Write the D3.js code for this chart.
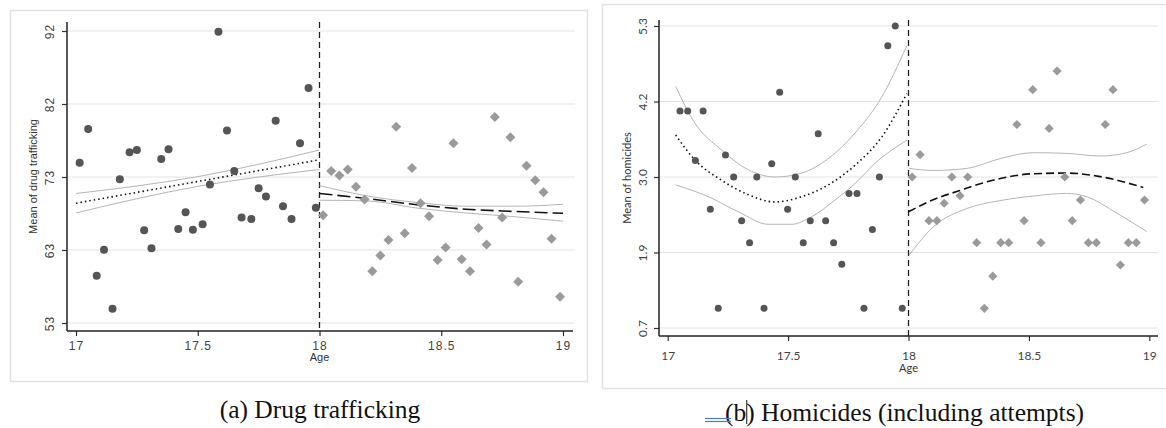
<!DOCTYPE html>
<html>
<head>
<meta charset="utf-8">
<script src="https://cdn.jsdelivr.net/npm/d3@7"></script>
<style>
  body { margin: 0; background: #fff; }
  svg { display: block; }
</style>
</head>
<body>
<svg id="chart"></svg>
<script>
// ---- panel (a) drug trafficking ----
let drugAgeL = [17.015,17.05,17.085,17.115,17.15,17.18,17.22,17.25,17.28,17.31,17.35,17.38,17.42,17.45,17.48,
                17.52,17.55,17.585,17.62,17.65,17.68,17.72,17.75,17.78,17.82,17.85,17.885,17.92,17.955,17.985];
let drugValL = [74.4,78.9,59.3,62.8,54.9,72.2,75.8,76.1,65.4,63.0,74.9,76.2,65.55,67.8,65.45,
                66.2,71.5,91.9,78.7,73.3,67.1,66.9,71.0,69.9,80.0,68.6,66.9,77.0,84.4,68.4];
let drugAgeR = [18.015,18.048,18.082,18.116,18.15,18.185,18.217,18.25,18.283,18.315,18.35,18.38,18.415,18.45,18.485,
                18.518,18.55,18.584,18.618,18.653,18.686,18.72,18.75,18.784,18.816,18.85,18.886,18.92,18.953,18.988];
let drugValR = [67.4,73.3,72.7,73.5,71.2,69.5,59.9,62.0,64.1,79.2,65.0,73.7,69.0,67.25,61.4,
                63.1,77.0,61.5,59.9,65.7,63.5,80.5,67.1,77.8,58.5,74.0,72.05,70.45,64.25,56.5];
let drugFitAgeL = [17,17.25,17.5,17.75,18];
let drugFitL    = [69.0,70.45,71.9,73.35,74.8];
let drugHiL     = [70.3,71.3,72.55,74.2,76.1];
let drugLoL     = [67.7,69.6,71.25,72.5,73.5];
let drugFitAgeR = [18,18.2,18.4,18.6,18.8,19];
let drugFitR    = [70.3,69.6,68.8,68.2,67.9,67.65];
let drugHiR     = [71.35,69.95,69.1,68.6,68.6,68.85];
let drugLoR     = [69.4,69.3,68.35,67.7,67.2,66.6];
let drugTicks   = [53,62.75,72.5,82.25,92];
let drugTickLab = ["53","63","73","82","92"];

// ---- panel (b) homicides ----
let homAgeL = [17.051,17.083,17.115,17.147,17.177,17.21,17.24,17.274,17.307,17.34,17.37,17.4,17.432,17.465,17.498,
               17.53,17.563,17.592,17.625,17.656,17.689,17.723,17.753,17.786,17.815,17.85,17.879,17.914,17.945,17.974];
let homValL = [4.005,4.005,3.25,4.005,2.51,1.0,3.335,3.0,2.335,2.0,3.0,1.0,3.2,4.29,2.51,
               3.0,2.0,2.335,3.66,2.335,2.0,1.67,2.75,2.75,1.0,2.2,3.0,5.0,5.3,1.0];
let homAgeR = [18.015,18.048,18.085,18.118,18.148,18.18,18.214,18.246,18.283,18.315,18.35,18.383,18.416,18.45,18.48,
               18.516,18.55,18.584,18.617,18.649,18.68,18.714,18.747,18.78,18.817,18.849,18.88,18.913,18.946,18.98];
let homValR = [3.0,3.34,2.335,2.335,2.6,3.0,2.715,3.0,2.0,1.0,1.49,2.0,2.0,3.8,2.335,
               4.33,2.0,3.74,4.615,3.0,2.335,2.65,2.0,2.0,3.8,4.33,1.66,2.0,2.0,2.65];
let homFitAgeL = [17.033,17.113,17.224,17.335,17.446,17.556,17.667,17.778,17.889,17.993];
let homFitL    = [3.64,3.26,2.95,2.73,2.62,2.70,2.88,3.18,3.61,4.27];
let homHiL     = [4.38,3.82,3.41,3.11,3.0,3.06,3.28,3.67,4.22,5.0];
let homLoAgeL  = [17.033,17.169,17.293,17.418,17.515,17.598,17.695,17.778,17.861,17.993];
let homLoL     = [2.88,2.70,2.47,2.28,2.28,2.395,2.65,2.90,3.21,3.56];
let homFitAgeR = [18.0,18.1,18.21,18.35,18.52,18.66,18.79,18.975];
let homFitR    = [2.47,2.65,2.79,2.95,3.05,3.06,3.01,2.84];
let homCiAgeR  = [18.003,18.103,18.242,18.38,18.518,18.657,18.795,18.906,18.989];
let homHiR     = [3.13,3.10,3.13,3.28,3.37,3.36,3.32,3.37,3.50];
let homLoAgeR  = [18.003,18.103,18.242,18.38,18.518,18.657,18.74,18.865,18.989];
let homLoR     = [1.81,2.24,2.52,2.64,2.71,2.75,2.70,2.45,2.17];
let homTicks   = [0.7,1.85,3.0,4.15,5.3];
let homTickLab = ["0.7","1.9","3.0","4.2","5.3"];

let xTicks = [17,17.5,18,18.5,19];

let W = 1166, H = 428;
let svg = d3.select("#chart").attr("width",W).attr("height",H);

let zip = (a,b) => a.map((v,i) => [v,b[i]]);

function drawPanel(p) {
  let x = d3.scaleLinear().domain([17,19]).range([p.x17,p.x19]),
      y = d3.scaleLinear().domain([p.ticks[0],p.ticks[4]]).range([p.yBot,p.yTop]);

  let g = svg.append("g");

  // frame
  g.append("rect")
    .attr("x",p.frame[0]+0.5).attr("y",p.frame[1]+0.5)
    .attr("width",p.frame[2]).attr("height",p.frame[3])
    .attr("fill","none").attr("stroke","#e2e2e2").attr("stroke-width",1.5);

  // grid
  g.selectAll(".grid").data(p.ticks).enter().append("line")
    .attr("x1",p.axisX).attr("x2",p.gridEnd)
    .attr("y1",d=>y(d)).attr("y2",d=>y(d))
    .attr("stroke","#e3e3e3").attr("stroke-width",1);

  // axes
  let yAxis = d3.axisLeft(y).tickValues(p.ticks).tickSize(5)
                .tickFormat((d,i) => p.tickLab[i]);
  let xAxis = d3.axisBottom(x).tickValues(xTicks).tickSize(5)
                .tickFormat(d => d3.format("")(d));

  let ya = g.append("g").attr("transform",`translate(${p.axisX},0)`).call(yAxis);
  ya.select(".domain").remove();
  ya.selectAll("line").attr("stroke","#333").attr("stroke-width",1.2);
  ya.selectAll("text")
    .attr("transform","rotate(-90)")
    .attr("x",0).attr("dy",0)
    .attr("y",-p.yLabOff)
    .style("text-anchor","middle")
    .style("font-family",p.font).style("font-size","12px")
    .style("letter-spacing",p.spacing).attr("fill","#444");

  let xa = g.append("g").attr("transform",`translate(0,${p.axisY})`).call(xAxis);
  xa.select(".domain").remove();
  xa.selectAll("line").attr("stroke","#333").attr("stroke-width",1.2);
  xa.selectAll("text").attr("dy",0).attr("y",p.xLabOff)
    .style("font-family",p.font).style("font-size","12px")
    .style("letter-spacing",p.spacing).attr("fill","#444");

  g.append("line").attr("x1",p.axisX).attr("x2",p.axisX).attr("y1",p.axisTop).attr("y2",p.axisY)
    .attr("stroke","#222").attr("stroke-width",1.5);
  g.append("line").attr("x1",p.axisX).attr("x2",p.axisEnd).attr("y1",p.axisY).attr("y2",p.axisY)
    .attr("stroke","#222").attr("stroke-width",1.5);

  // axis titles
  g.append("text")
    .attr("transform",`translate(${p.titleX},${(p.axisTop+p.axisY)/2}) rotate(-90)`)
    .style("text-anchor","middle").style("font-family",p.font).style("font-size","11px")
    .attr("fill","#333").text(p.yTitle);
  g.append("text")
    .attr("x",x(18)).attr("y",p.ageY)
    .style("text-anchor","middle").style("font-family",p.font).style("font-size","11px")
    .attr("fill","#333").text("Age");

  // cutoff
  g.append("line").attr("x1",x(18)).attr("x2",x(18)).attr("y1",p.axisTop).attr("y2",p.axisY)
    .attr("stroke","#222").attr("stroke-width",1.3).attr("stroke-dasharray","6,4");

  let line = d3.line().x(d=>x(d[0])).y(d=>y(d[1])).curve(d3.curveMonotoneX);

  // CI bands
  [p.hiL, p.loL, p.hiR, p.loR].forEach(s => {
    g.append("path").datum(s).attr("d",line)
      .attr("fill","none").attr("stroke","#b5b5b5").attr("stroke-width",1);
  });
  g.append("path").datum(p.fitL).attr("d",line)
    .attr("fill","none").attr("stroke","#111").attr("stroke-width",1.6).attr("stroke-dasharray","1.5,3");
  g.append("path").datum(p.fitR).attr("d",line)
    .attr("fill","none").attr("stroke","#111").attr("stroke-width",1.6).attr("stroke-dasharray",p.dashR);

  // points
  g.selectAll(".dot").data(p.ptsL).enter().append("circle")
    .attr("cx",d=>x(d[0])).attr("cy",d=>y(d[1])).attr("r",p.r)
    .attr("fill","#555");
  g.selectAll(".dia").data(p.ptsR).enter().append("path")
    .attr("d",d3.symbol(d3.symbolSquare,p.sq)())
    .attr("transform",d=>`translate(${x(d[0])},${y(d[1])}) rotate(45)`)
    .attr("fill","#9a9a9a");
}

drawPanel({
  x17:76, x19:563, yTop:31, yBot:323, axisX:67, axisY:331, axisTop:22, axisEnd:573, gridEnd:575,
  frame:[10,10,577,371], ticks:drugTicks, tickLab:drugTickLab,
  yLabOff:13, xLabOff:19, titleX:37, ageY:361, yTitle:"Mean of drug trafficking",
  font:"Liberation Sans, Arial, sans-serif", spacing:"1px",
  ptsL:zip(drugAgeL,drugValL), ptsR:zip(drugAgeR,drugValR),
  fitL:zip(drugFitAgeL,drugFitL), hiL:zip(drugFitAgeL,drugHiL), loL:zip(drugFitAgeL,drugLoL),
  fitR:zip(drugFitAgeR,drugFitR), hiR:zip(drugFitAgeR,drugHiR), loR:zip(drugFitAgeR,drugLoR),
  dashR:"13,5", r:4, sq:50
});

drawPanel({
  x17:667.7, x19:1149.3, yTop:26, yBot:328, axisX:659, axisY:336, axisTop:20, axisEnd:1158, gridEnd:1158,
  frame:[602,4,580,384], ticks:homTicks, tickLab:homTickLab,
  yLabOff:12, xLabOff:24, titleX:631, ageY:372, yTitle:"Mean of homicides",
  font:"Lato, Open Sans, sans-serif", spacing:"0px",
  ptsL:zip(homAgeL,homValL), ptsR:zip(homAgeR,homValR),
  fitL:zip(homFitAgeL,homFitL), hiL:zip(homFitAgeL,homHiL), loL:zip(homLoAgeL,homLoL),
  fitR:zip(homFitAgeR,homFitR), hiR:zip(homCiAgeR,homHiR), loR:zip(homLoAgeR,homLoR),
  dashR:"8,4", r:3.5, sq:42
});

// captions
let capFont = "Liberation Serif, Times New Roman, serif";
svg.append("text").attr("x",320).attr("y",418)
  .style("text-anchor","middle").style("font-family",capFont).style("font-size","25.5px")
  .attr("fill","#111").text("(a) Drug trafficking");

let capB = svg.append("text").attr("x",725).attr("y",421)
  .style("font-family",capFont).style("font-size","25.5px")
  .attr("fill","#111").text("(b) Homicides (including attempts)");
let pre = svg.append("text").attr("x",725).attr("y",421)
  .style("font-family",capFont).style("font-size","25.5px").text("(b");
let curX = 725 + pre.node().getComputedTextLength();
pre.remove();
svg.append("line").attr("x1",curX+0.5).attr("x2",curX+0.5).attr("y1",400).attr("y2",424)
  .attr("stroke","#111").attr("stroke-width",1);
[418.5,421.5].forEach(yy => svg.append("line").attr("x1",705).attr("x2",731).attr("y1",yy).attr("y2",yy)
  .attr("stroke","#4a7fc0").attr("stroke-width",1.2));
</script>
</body>
</html>
